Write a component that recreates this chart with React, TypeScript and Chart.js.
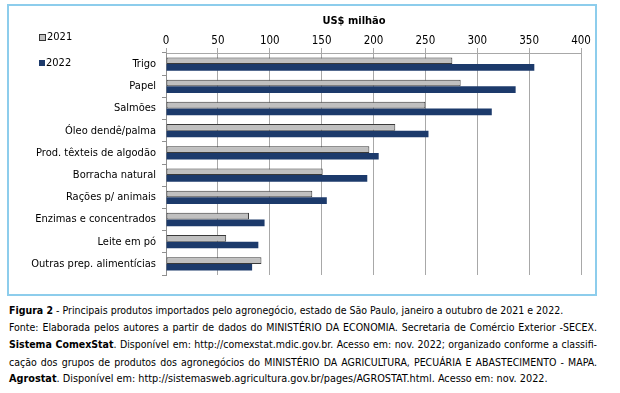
import React, { useEffect, useRef } from "react";
import { Chart, registerables } from "chart.js";

Chart.register(...registerables);

const categories = [
  "Trigo",
  "Papel",
  "Salmões",
  "Óleo dendê/palma",
  "Prod. têxteis de algodão",
  "Borracha natural",
  "Rações p/ animais",
  "Enzimas e concentrados",
  "Leite em pó",
  "Outras prep. alimentícias",
];
const values2021 = [276, 284, 250, 221, 196, 151, 141, 80, 58, 92];
const values2022 = [355, 337, 314, 253, 205, 194, 155, 95, 89, 83];
const seriesLabels = ["2021", "2022"];
const xTickMin = 0;
const xTickMax = 400;
const xTickStep = 50;
const axisTitle = "US$ milhão";

const FONT = "'DejaVu Sans Condensed', 'DejaVu Sans', sans-serif";
const GRAY = "#c0c0c0";
const NAVY = "#1c3a6b";

export default function App() {
  const ref = useRef<HTMLCanvasElement | null>(null);

  useEffect(() => {
    if (!ref.current) return;
    const chart = new Chart(ref.current, {
      type: "bar",
      data: {
        labels: categories,
        datasets: [
          {
            label: seriesLabels[0],
            data: values2021,
            backgroundColor: GRAY,
            borderColor: "#3a3a3a",
            borderWidth: 1,
            borderSkipped: false,
            categoryPercentage: 0.6,
            barPercentage: 1,
          },
          {
            label: seriesLabels[1],
            data: values2022,
            backgroundColor: NAVY,
            borderWidth: 0,
            categoryPercentage: 0.6,
            barPercentage: 1,
          },
        ],
      },
      options: {
        indexAxis: "y",
        animation: false,
        responsive: false,
        maintainAspectRatio: false,
        layout: { padding: { left: 0, right: 39, top: 0, bottom: 25 } },
        plugins: {
          legend: { display: false },
          tooltip: { enabled: false },
          title: { display: false },
        },
        scales: {
          x: {
            position: "top",
            min: xTickMin,
            max: xTickMax,
            ticks: {
              stepSize: xTickStep,
              color: "#000",
              font: { family: FONT, size: 11.5 },
              padding: 0,
            },
            grid: {
              color: "#a8a8a8",
              lineWidth: 1,
              tickLength: 5,
              drawOnChartArea: true,
            },
            border: { display: true, color: "#a8a8a8" },
            afterFit: (s: any) => {
              s.height = 53;
            },
          },
          y: {
            ticks: {
              color: "#000",
              font: { family: FONT, size: 11 },
              padding: 6,
            },
            grid: {
              drawOnChartArea: false,
              color: "#909090",
              tickLength: 4,
              offset: true,
            },
            border: { display: true, color: "#909090" },
            afterFit: (s: any) => {
              s.width = 166;
            },
          },
        },
      },
    });
    return () => chart.destroy();
  }, []);

  const cap: React.CSSProperties = {
    position: "absolute",
    left: 9,
    width: 588,
    fontFamily: FONT,
    fontSize: 10.5,
    lineHeight: "14px",
    color: "#000",
    whiteSpace: "nowrap",
  };
  const just: React.CSSProperties = {
    ...cap,
    whiteSpace: "normal",
    textAlign: "justify",
    textAlignLast: "justify",
  };

  return (
    <div
      style={{
        position: "fixed",
        left: 0,
        top: 0,
        width: 620,
        height: 393,
        background: "#fff",
        overflow: "hidden",
      }}
    >
      <div
        style={{
          position: "absolute",
          left: 7,
          top: 4,
          width: 586,
          height: 288,
          border: "2px solid #8dcdec",
        }}
      />
      <canvas
        ref={ref}
        width={620}
        height={300}
        style={{ position: "absolute", left: 0, top: 0, width: 620, height: 300 }}
      />
      <div
        style={{
          position: "absolute",
          left: 304,
          width: 100,
          top: 14,
          textAlign: "center",
          fontFamily: FONT,
          fontWeight: "bold",
          fontSize: 11,
        }}
      >
        {axisTitle}
      </div>
      {[0, 1].map((i) => (
        <div
          key={i}
          style={{
            position: "absolute",
            left: 39,
            top: i === 0 ? 30 : 56,
            fontFamily: FONT,
            fontSize: 11,
            display: "flex",
            alignItems: "center",
            lineHeight: "14px",
          }}
        >
          <span
            style={{
              display: "inline-block",
              width: i === 0 ? 5 : 6,
              height: i === 0 ? 5 : 6,
              background: i === 0 ? GRAY : NAVY,
              border: i === 0 ? "1px solid #333" : "none",
              marginRight: 1,
            }}
          />
          {seriesLabels[i]}
        </div>
      ))}
      <div style={{ ...cap, top: 303 }}>
        <b>Figura 2</b> - Principais produtos importados pelo agronegócio, estado de São Paulo, janeiro a outubro de 2021 e 2022.
      </div>
      <div style={{ ...just, top: 320 }}>
        Fonte: Elaborada pelos autores a partir de dados do MINISTÉRIO DA ECONOMIA. Secretaria de Comércio Exterior -SECEX.
      </div>
      <div style={{ ...just, top: 337 }}>
        <b>Sistema ComexStat</b>. Disponível em: http://comexstat.mdic.gov.br. Acesso em: nov. 2022; organizado conforme a classifi-
      </div>
      <div style={{ ...just, top: 354.5 }}>
        cação dos grupos de produtos dos agronegócios do MINISTÉRIO DA AGRICULTURA, PECUÁRIA E ABASTECIMENTO - MAPA.
      </div>
      <div style={{ ...cap, top: 372, fontSize: 10.8 }}>
        <b>Agrostat</b>. Disponível em: http://sistemasweb.agricultura.gov.br/pages/AGROSTAT.html. Acesso em: nov. 2022.
      </div>
    </div>
  );
}
